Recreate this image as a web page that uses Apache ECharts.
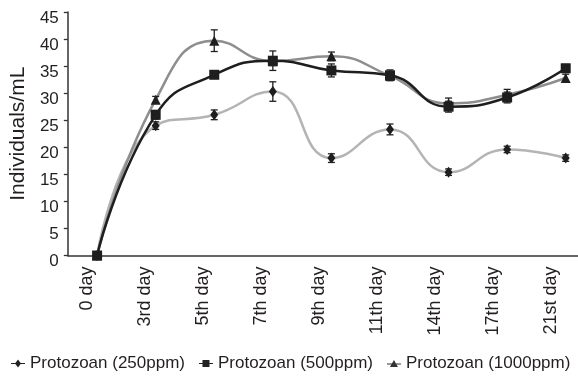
<!DOCTYPE html>
<html>
<head>
<meta charset="utf-8">
<script src="https://cdn.jsdelivr.net/npm/echarts@6/dist/echarts.min.js"></script>
<style>
  html, body { margin: 0; padding: 0; background: #fff; overflow: hidden; }
  /* the plot runs past the right edge in the original, so the canvas is wider than the window */
  #chart { width: 596px; height: 378px; }
</style>
</head>
<body>
<div id="chart"></div>
<script>
// data
const categories = ['0 day', '3rd day', '5th day', '7th day', '9th day', '11th day', '14th day', '17th day', '21st day'];
const p250 = [0, 24.0, 26.0, 30.3, 18.0, 23.3, 15.4, 19.6, 18.0];
const p500 = [0, 26.0, 33.4, 36.0, 34.2, 33.3, 27.5, 29.2, 34.6];
const p1000 = [0, 28.8, 39.7, 35.9, 36.8, 33.2, 28.1, 29.7, 32.8];
const err250 = [0, 0.7, 0.9, 1.8, 0.8, 1.0, 0.6, 0.6, 0.6];
const err500 = [0, 0.8, 0.5, 1.8, 1.2, 1.0, 1.0, 1.0, 0.7];
const err1000 = [0, 0.6, 2.0, 0.8, 0.8, 0.8, 1.0, 1.0, 0.7];
const yMin = 0, yMax = 45, yStep = 5;

const names = ['Protozoan (250ppm)', 'Protozoan (500ppm)', 'Protozoan (1000ppm)'];
const font = "'Liberation Sans', Arial, sans-serif";
const ink = '#231f20';

function errData(vals, errs) {
  return vals.map((v, i) => [i, v - errs[i], v + errs[i], errs[i]]);
}

function renderErr(params, api) {
  if (api.value(3) <= 0) return;
  const lo = api.coord([api.value(0), api.value(1)]);
  const hi = api.coord([api.value(0), api.value(2)]);
  const w = 3.5;
  const style = { stroke: ink, lineWidth: 1.3 };
  return {
    type: 'group',
    children: [
      { type: 'line', shape: { x1: lo[0], y1: lo[1], x2: hi[0], y2: hi[1] }, style },
      { type: 'line', shape: { x1: hi[0] - w, y1: hi[1], x2: hi[0] + w, y2: hi[1] }, style },
      { type: 'line', shape: { x1: lo[0] - w, y1: lo[1], x2: lo[0] + w, y2: lo[1] }, style }
    ]
  };
}

const chart = echarts.init(document.getElementById('chart'));

const option = {
  animation: false,
  textStyle: { fontFamily: font },
  grid: [
    { left: 62, right: 1, top: 12, bottom: 122.5 },
    // labels in the original sit on a slightly tighter pitch than the points
    { left: 57.5, width: 523, top: 12, bottom: 122.5 }
  ],
  legend: {
    left: 11,
    top: 355,
    padding: 0,
    width: 566,
    itemGap: 14,
    itemWidth: 14,
    itemHeight: 8,
    textStyle: { fontSize: 17, color: ink, fontFamily: font },
    data: [
      { name: names[0], icon: 'path://M0,3.5H14V4.5H0Z M7,0L10,4L7,8L4,4Z', itemStyle: { color: '#222' } },
      { name: names[1], icon: 'path://M0,3.5H14V4.5H0Z M3.5,0.5H10.5V7.5H3.5Z', itemStyle: { color: '#222' } },
      { name: names[2], icon: 'path://M0,3.5H14V4.5H0Z M7,0L11,7L3,7Z', itemStyle: { color: '#333' } }
    ]
  },
  xAxis: [
    {
      type: 'category',
      gridIndex: 0,
      data: categories,
      boundaryGap: true,
      axisLine: { lineStyle: { color: '#333', width: 1.5 } },
      axisTick: { length: 5, lineStyle: { color: '#333', width: 1.3 } },
      axisLabel: { show: false }
    },
    {
      type: 'category',
      gridIndex: 1,
      data: categories,
      boundaryGap: true,
      axisLine: { show: false },
      axisTick: { show: false },
      axisLabel: {
        rotate: 90,
        margin: 11,
        fontSize: 18,
        color: ink,
        fontFamily: font,
        interval: 0
      }
    }
  ],
  yAxis: [
    {
      type: 'value',
      gridIndex: 0,
      min: yMin,
      max: yMax,
      interval: yStep,
      name: 'Individuals/mL',
      nameLocation: 'middle',
      nameGap: 31,
      nameTextStyle: { fontSize: 21, color: ink, fontFamily: font },
      splitLine: { show: false },
      axisLine: { show: true, lineStyle: { color: '#333', width: 1.5 } },
      axisTick: { show: true, length: 4, lineStyle: { color: '#333', width: 1.3 } },
      axisLabel: { fontSize: 17, color: ink, fontFamily: font, margin: 9, verticalAlign: 'top', lineHeight: 12 }
    },
    { type: 'value', gridIndex: 1, min: yMin, max: yMax, show: false }
  ],
  series: [
    {
      name: names[0], type: 'line', data: p250, smooth: 0.5,
      symbol: 'diamond', symbolSize: [8, 11],
      lineStyle: { color: '#b4b4b4', width: 2.5 },
      itemStyle: { color: '#1e1e1e' }, z: 3
    },
    {
      name: names[2], type: 'line', data: p1000, smooth: 0.5,
      symbol: 'triangle', symbolSize: [10, 10],
      lineStyle: { color: '#8e8e8e', width: 2.5 },
      itemStyle: { color: '#1e1e1e' }, z: 4
    },
    {
      name: names[1], type: 'line', data: p500, smooth: 0.5,
      symbol: 'rect', symbolSize: 10,
      lineStyle: { color: '#1e1e1e', width: 2.5 },
      itemStyle: { color: '#1e1e1e' }, z: 5
    },
    { type: 'custom', renderItem: renderErr, data: errData(p250, err250), z: 6, silent: true },
    { type: 'custom', renderItem: renderErr, data: errData(p500, err500), z: 6, silent: true },
    { type: 'custom', renderItem: renderErr, data: errData(p1000, err1000), z: 6, silent: true }
  ]
};

chart.setOption(option);
</script>
</body>
</html>
